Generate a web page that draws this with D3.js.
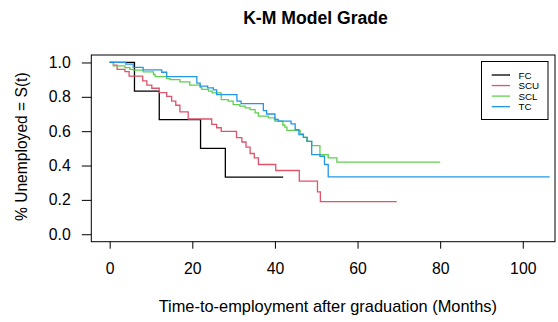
<!DOCTYPE html>
<html>
<head>
<meta charset="utf-8">
<script src="https://cdn.jsdelivr.net/npm/d3@7"></script>
<style>
  body { margin: 0; background: #fff; }
  svg { display: block; font-family: "Liberation Sans", Arial, sans-serif; }
</style>
</head>
<body>
<div id="chart"></div>
<script>
// K-M step curves: time (months) and S(t) at each step
const groups = ['FC', 'SCU', 'SCL', 'TC'];
const colors = ['#000000', '#DF536B', '#61D04F', '#2297E6'];

const fcTime = [0, 6, 12, 22, 28, 42];
const fcSurv = [1, 0.833, 0.667, 0.5, 0.333, 0.333];

const scuTime = [0, 0.9, 1.8, 3.7, 4.7, 8, 9, 10.2, 12, 13.8, 15, 16, 17, 19, 24.7, 25.9, 27, 30.7, 32, 33, 34, 35, 36, 40.2, 45.9, 50.3, 51, 69.5];
const scuSurv = [1, 0.984, 0.96, 0.947, 0.92, 0.893, 0.868, 0.85, 0.825, 0.803, 0.775, 0.751, 0.712, 0.671, 0.64, 0.62, 0.599, 0.563, 0.537, 0.507, 0.47, 0.444, 0.406, 0.371, 0.309, 0.247, 0.19, 0.19];

const sclTime = [0, 0.9, 3.7, 4.9, 5.7, 8.1, 10.6, 11, 13.8, 14.6, 17, 19.4, 21.9, 22.3, 23.9, 24.8, 27, 28.7, 29.9, 31.5, 32.8, 34, 35.2, 36, 38.4, 40, 41.9, 42.4, 42.9, 46.1, 46.9, 47.7, 48.9, 50.9, 52.9, 55, 80];
const sclSurv = [1, 0.98, 0.97, 0.96, 0.955, 0.945, 0.93, 0.918, 0.906, 0.9, 0.887, 0.868, 0.854, 0.843, 0.833, 0.823, 0.784, 0.775, 0.755, 0.746, 0.736, 0.726, 0.707, 0.688, 0.678, 0.659, 0.636, 0.624, 0.605, 0.584, 0.564, 0.541, 0.516, 0.464, 0.445, 0.42, 0.42];

const tcTime = [0, 3.9, 5.7, 8.1, 12.6, 13.8, 21.1, 21.9, 23.7, 25.1, 25.9, 30.8, 31.8, 37.2, 38, 40, 40.8, 43.9, 44.9, 45.8, 46.9, 47.8, 48.9, 50.9, 52, 52.9, 106.5];
const tcSurv = [1, 0.99, 0.972, 0.957, 0.943, 0.918, 0.88, 0.862, 0.852, 0.84, 0.813, 0.775, 0.76, 0.72, 0.7, 0.668, 0.659, 0.643, 0.609, 0.58, 0.564, 0.541, 0.464, 0.454, 0.406, 0.334, 0.334];

const xTicks = [0, 20, 40, 60, 80, 100];
const yTicks = [0, 0.2, 0.4, 0.6, 0.8, 1.0];

const curves = [
  { name: 'FC', time: fcTime, surv: fcSurv },
  { name: 'SCU', time: scuTime, surv: scuSurv },
  { name: 'SCL', time: sclTime, surv: sclSurv },
  { name: 'TC', time: tcTime, surv: tcSurv }
];

const width = 558, height = 322;
const box = { left: 91.3, right: 555, top: 55, bottom: 241.7 };

const svg = d3.select('#chart')
  .append('svg')
  .attr('width', width)
  .attr('height', height)
  .attr('viewBox', '0 0 ' + width + ' ' + height);

const x = d3.scaleLinear().domain([-4.45, 107.8]).range([box.left, box.right]);
const y = d3.scaleLinear().domain([-0.0435, 1.0435]).range([box.bottom, box.top]);
const color = d3.scaleOrdinal().domain(groups).range(colors);

// curves
const line = d3.line()
  .x(d => x(d[0]))
  .y(d => y(d[1]))
  .curve(d3.curveStepAfter);

svg.append('g')
  .selectAll('path')
  .data(curves)
  .join('path')
  .attr('d', c => line(c.time.map((t, i) => [t, c.surv[i]])))
  .attr('fill', 'none')
  .attr('stroke', c => color(c.name))
  .attr('stroke-width', 1.3);

// box
svg.append('rect')
  .attr('x', box.left)
  .attr('y', box.top)
  .attr('width', box.right - box.left)
  .attr('height', box.bottom - box.top)
  .attr('fill', 'none')
  .attr('stroke', '#000')
  .attr('stroke-width', 1);

// axes
const xAxis = svg.append('g')
  .attr('transform', 'translate(0,' + box.bottom + ')')
  .call(d3.axisBottom(x).tickValues(xTicks).tickSize(7).tickPadding(14).tickFormat(d3.format('d')));
xAxis.select('.domain').remove();
xAxis.selectAll('text').attr('font-size', 15.8).attr('fill', '#000').attr('font-family', null);

const yAxis = svg.append('g')
  .attr('transform', 'translate(' + box.left + ',0)')
  .call(d3.axisLeft(y).tickValues(yTicks).tickSize(9.5).tickPadding(11).tickFormat(d3.format('.1f')));
yAxis.select('.domain').remove();
yAxis.selectAll('text').attr('font-size', 15.8).attr('fill', '#000').attr('font-family', null);

// titles
svg.append('text')
  .attr('x', 315.5)
  .attr('y', 24)
  .attr('text-anchor', 'middle')
  .attr('font-size', 17.6)
  .attr('font-weight', 'bold')
  .text('K-M Model Grade');

svg.append('text')
  .attr('x', 327.8)
  .attr('y', 312)
  .attr('text-anchor', 'middle')
  .attr('font-size', 16.4)
  .text('Time-to-employment after graduation (Months)');

svg.append('text')
  .attr('transform', 'translate(27,146.7) rotate(-90)')
  .attr('text-anchor', 'middle')
  .attr('font-size', 15.6)
  .text('% Unemployed = S(t)');

// legend
const legend = svg.append('g');
legend.append('rect')
  .attr('x', 481.5)
  .attr('y', 61.5)
  .attr('width', 66.5)
  .attr('height', 58)
  .attr('fill', '#fff')
  .attr('stroke', '#000')
  .attr('stroke-width', 1);

const rows = legend.selectAll('g.row')
  .data(groups)
  .join('g')
  .attr('class', 'row')
  .attr('transform', (d, i) => 'translate(0,' + (75 + i * 10.55) + ')');

rows.append('line')
  .attr('x1', 491.7)
  .attr('x2', 510)
  .attr('stroke', d => color(d))
  .attr('stroke-width', 1.3);

rows.append('text')
  .attr('x', 518.5)
  .attr('y', 3.5)
  .attr('font-size', 9.8)
  .text(d => d);
</script>
</body>
</html>
